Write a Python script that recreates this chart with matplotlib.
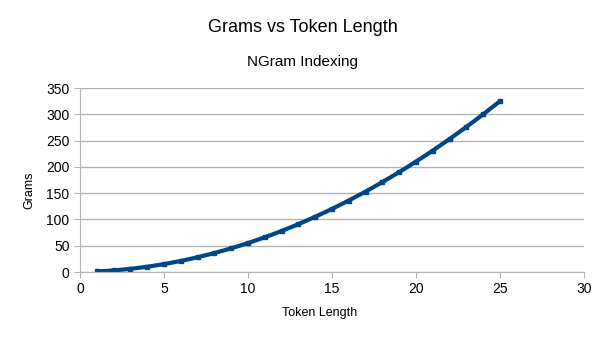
import matplotlib
matplotlib.use("Agg")
import matplotlib.pyplot as plt

plt.rcParams['font.family'] = ['Liberation Sans', 'DejaVu Sans']

# token length vs number of grams
token_length = [1, 2, 3, 4, 5, 6, 7, 8, 9, 10, 11, 12, 13, 14, 15, 16, 17,
                18, 19, 20, 21, 22, 23, 24, 25]
grams = [1, 3, 6, 10, 15, 21, 28, 36, 45, 55, 66, 78, 91, 105, 120, 136, 153,
         171, 190, 210, 231, 253, 276, 300, 325]

fig = plt.figure(figsize=(6.05, 3.4), dpi=100)
ax = fig.add_axes([80 / 605, 1 - 272 / 340, 504 / 605, 184 / 340])

ax.plot(token_length, grams, color='#004586', linewidth=3.0,
        marker='s', markersize=3.2, solid_capstyle='butt')

ax.set_xlim(0, 30)
ax.set_ylim(0, 350)
ax.set_xticks(range(0, 31, 5))
ax.set_yticks(range(0, 351, 50))
ax.grid(axis='y', color='#b3b3b3', linewidth=1)
ax.set_axisbelow(True)
for s in ['top', 'right']:
    ax.spines[s].set_visible(False)
for s in ['left', 'bottom']:
    ax.spines[s].set_color('#b3b3b3')
ax.tick_params(colors='#b3b3b3', labelcolor='black', labelsize=10, length=4)

# axis titles placed like the LibreOffice export
fig.text(320 / 605, 1 - 313 / 340, 'Token Length', ha='center', va='center',
         fontsize=9)
fig.text(29 / 605, 1 - 190 / 340, 'Grams', ha='center', va='center',
         fontsize=9, rotation=90)

fig.text(0.5, 1 - 27 / 340, 'Grams vs Token Length', ha='center', va='center',
         fontsize=13)
fig.text(0.5, 1 - 62 / 340, 'NGram Indexing', ha='center', va='center',
         fontsize=11)

fig.savefig('out.png', dpi=100)
